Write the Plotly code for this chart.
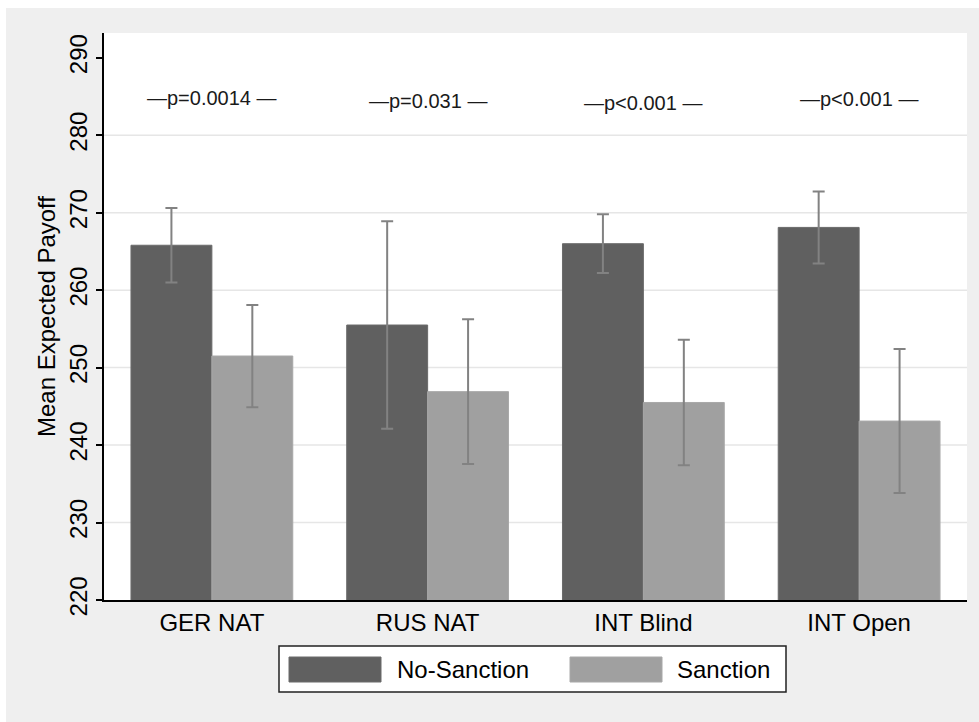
import plotly.graph_objects as go

categories = ["GER NAT", "RUS NAT", "INT Blind", "INT Open"]
no_sanction = [265.8, 255.5, 266.0, 268.1]
no_sanction_err = [4.8, 13.4, 3.8, 4.65]
sanction = [251.5, 246.9, 245.5, 243.1]
sanction_err = [6.6, 9.35, 8.1, 9.3]
p_labels = ["\u2014p=0.0014 \u2014", "\u2014p=0.031 \u2014", "\u2014p<0.001 \u2014", "\u2014p<0.001 \u2014"]
p_label_y = [284.8, 284.4, 284.1, 284.7]
y_ticks = [220, 230, 240, 250, 260, 270, 280, 290]
grid_values = [230, 240, 250, 260, 270, 280]

W, H = 979, 722
L, R, T, B = 104, 12, 33, 122
PW, PH = W - L - R, H - T - B
FONT = "Liberation Sans, Arial, sans-serif"
DARK, LIGHT, ERR = "#606060", "#a0a0a0", "#828282"
FS = 24


def px(x):
    return (x - L) / PW


def py(y):
    return (H - B - y) / PH


fig = go.Figure()
fig.add_trace(go.Bar(
    x=categories, y=no_sanction, name="No-Sanction",
    marker=dict(color=DARK, line=dict(color="#6a6a6a", width=1)),
    error_y=dict(type="data", array=no_sanction_err, color=ERR, thickness=2, width=6),
))
fig.add_trace(go.Bar(
    x=categories, y=sanction, name="Sanction",
    marker=dict(color=LIGHT, line=dict(color="#a8a8a8", width=1)),
    error_y=dict(type="data", array=sanction_err, color=ERR, thickness=2, width=6),
))

shapes = [
    dict(type="rect", xref="paper", yref="paper", x0=px(6), x1=px(W + 2), y0=py(8), y1=py(H + 2),
         fillcolor="#efefef", line=dict(width=0), layer="below"),
    dict(type="rect", xref="paper", yref="paper", x0=0, x1=1, y0=0, y1=1,
         fillcolor="white", line=dict(width=0), layer="below"),
]
for g in grid_values:
    shapes.append(dict(type="line", xref="paper", yref="y", x0=0, x1=1, y0=g, y1=g,
                       line=dict(color="#e6e6e6", width=1.5), layer="below"))

# custom legend
shapes.append(dict(type="rect", xref="paper", yref="paper", x0=px(279), x1=px(786), y0=py(692), y1=py(646),
                   fillcolor="white", line=dict(color="#222222", width=1.5)))
shapes.append(dict(type="rect", xref="paper", yref="paper", x0=px(289), x1=px(381), y0=py(682), y1=py(657),
                   fillcolor=DARK, line=dict(color="#6a6a6a", width=1)))
shapes.append(dict(type="rect", xref="paper", yref="paper", x0=px(570), x1=px(662), y0=py(682), y1=py(657),
                   fillcolor=LIGHT, line=dict(color="#a8a8a8", width=1)))

annotations = []
for c, t, yv in zip(categories, p_labels, p_label_y):
    annotations.append(dict(x=c, y=yv, xref="x", yref="y", text=t, showarrow=False,
                            xanchor="center", yanchor="middle",
                            font=dict(family=FONT, size=20, color="#1a1a1a")))
annotations.append(dict(x=px(395), y=py(669.5), xref="paper", yref="paper", text="No-Sanction",
                        showarrow=False, xanchor="left", yanchor="middle",
                        font=dict(family=FONT, size=FS, color="black")))
annotations.append(dict(x=px(675), y=py(669.5), xref="paper", yref="paper", text="Sanction",
                        showarrow=False, xanchor="left", yanchor="middle",
                        font=dict(family=FONT, size=FS, color="black")))

fig.update_layout(
    width=W, height=H,
    margin=dict(l=L, r=R, t=T, b=B),
    paper_bgcolor="white", plot_bgcolor="white",
    barmode="group", bargap=0.25, bargroupgap=0,
    showlegend=False,
    font=dict(family=FONT, color="black"),
    shapes=shapes, annotations=annotations,
    xaxis=dict(showline=True, linecolor="black", linewidth=1.5, ticks="", showgrid=False,
               tickfont=dict(size=FS, color="black"), ticklabelstandoff=0),
    yaxis=dict(range=[220, 293.2], tickvals=y_ticks, showgrid=False, zeroline=False,
               showline=True, linecolor="black", linewidth=1.5,
               ticks="outside", ticklen=6, tickwidth=1.5, tickcolor="black",
               tickangle=-90, tickfont=dict(size=FS, color="black"),
               title=dict(text="Mean Expected Payoff", font=dict(size=FS, color="black"), standoff=2)),
)

fig.write_html("out.html")
